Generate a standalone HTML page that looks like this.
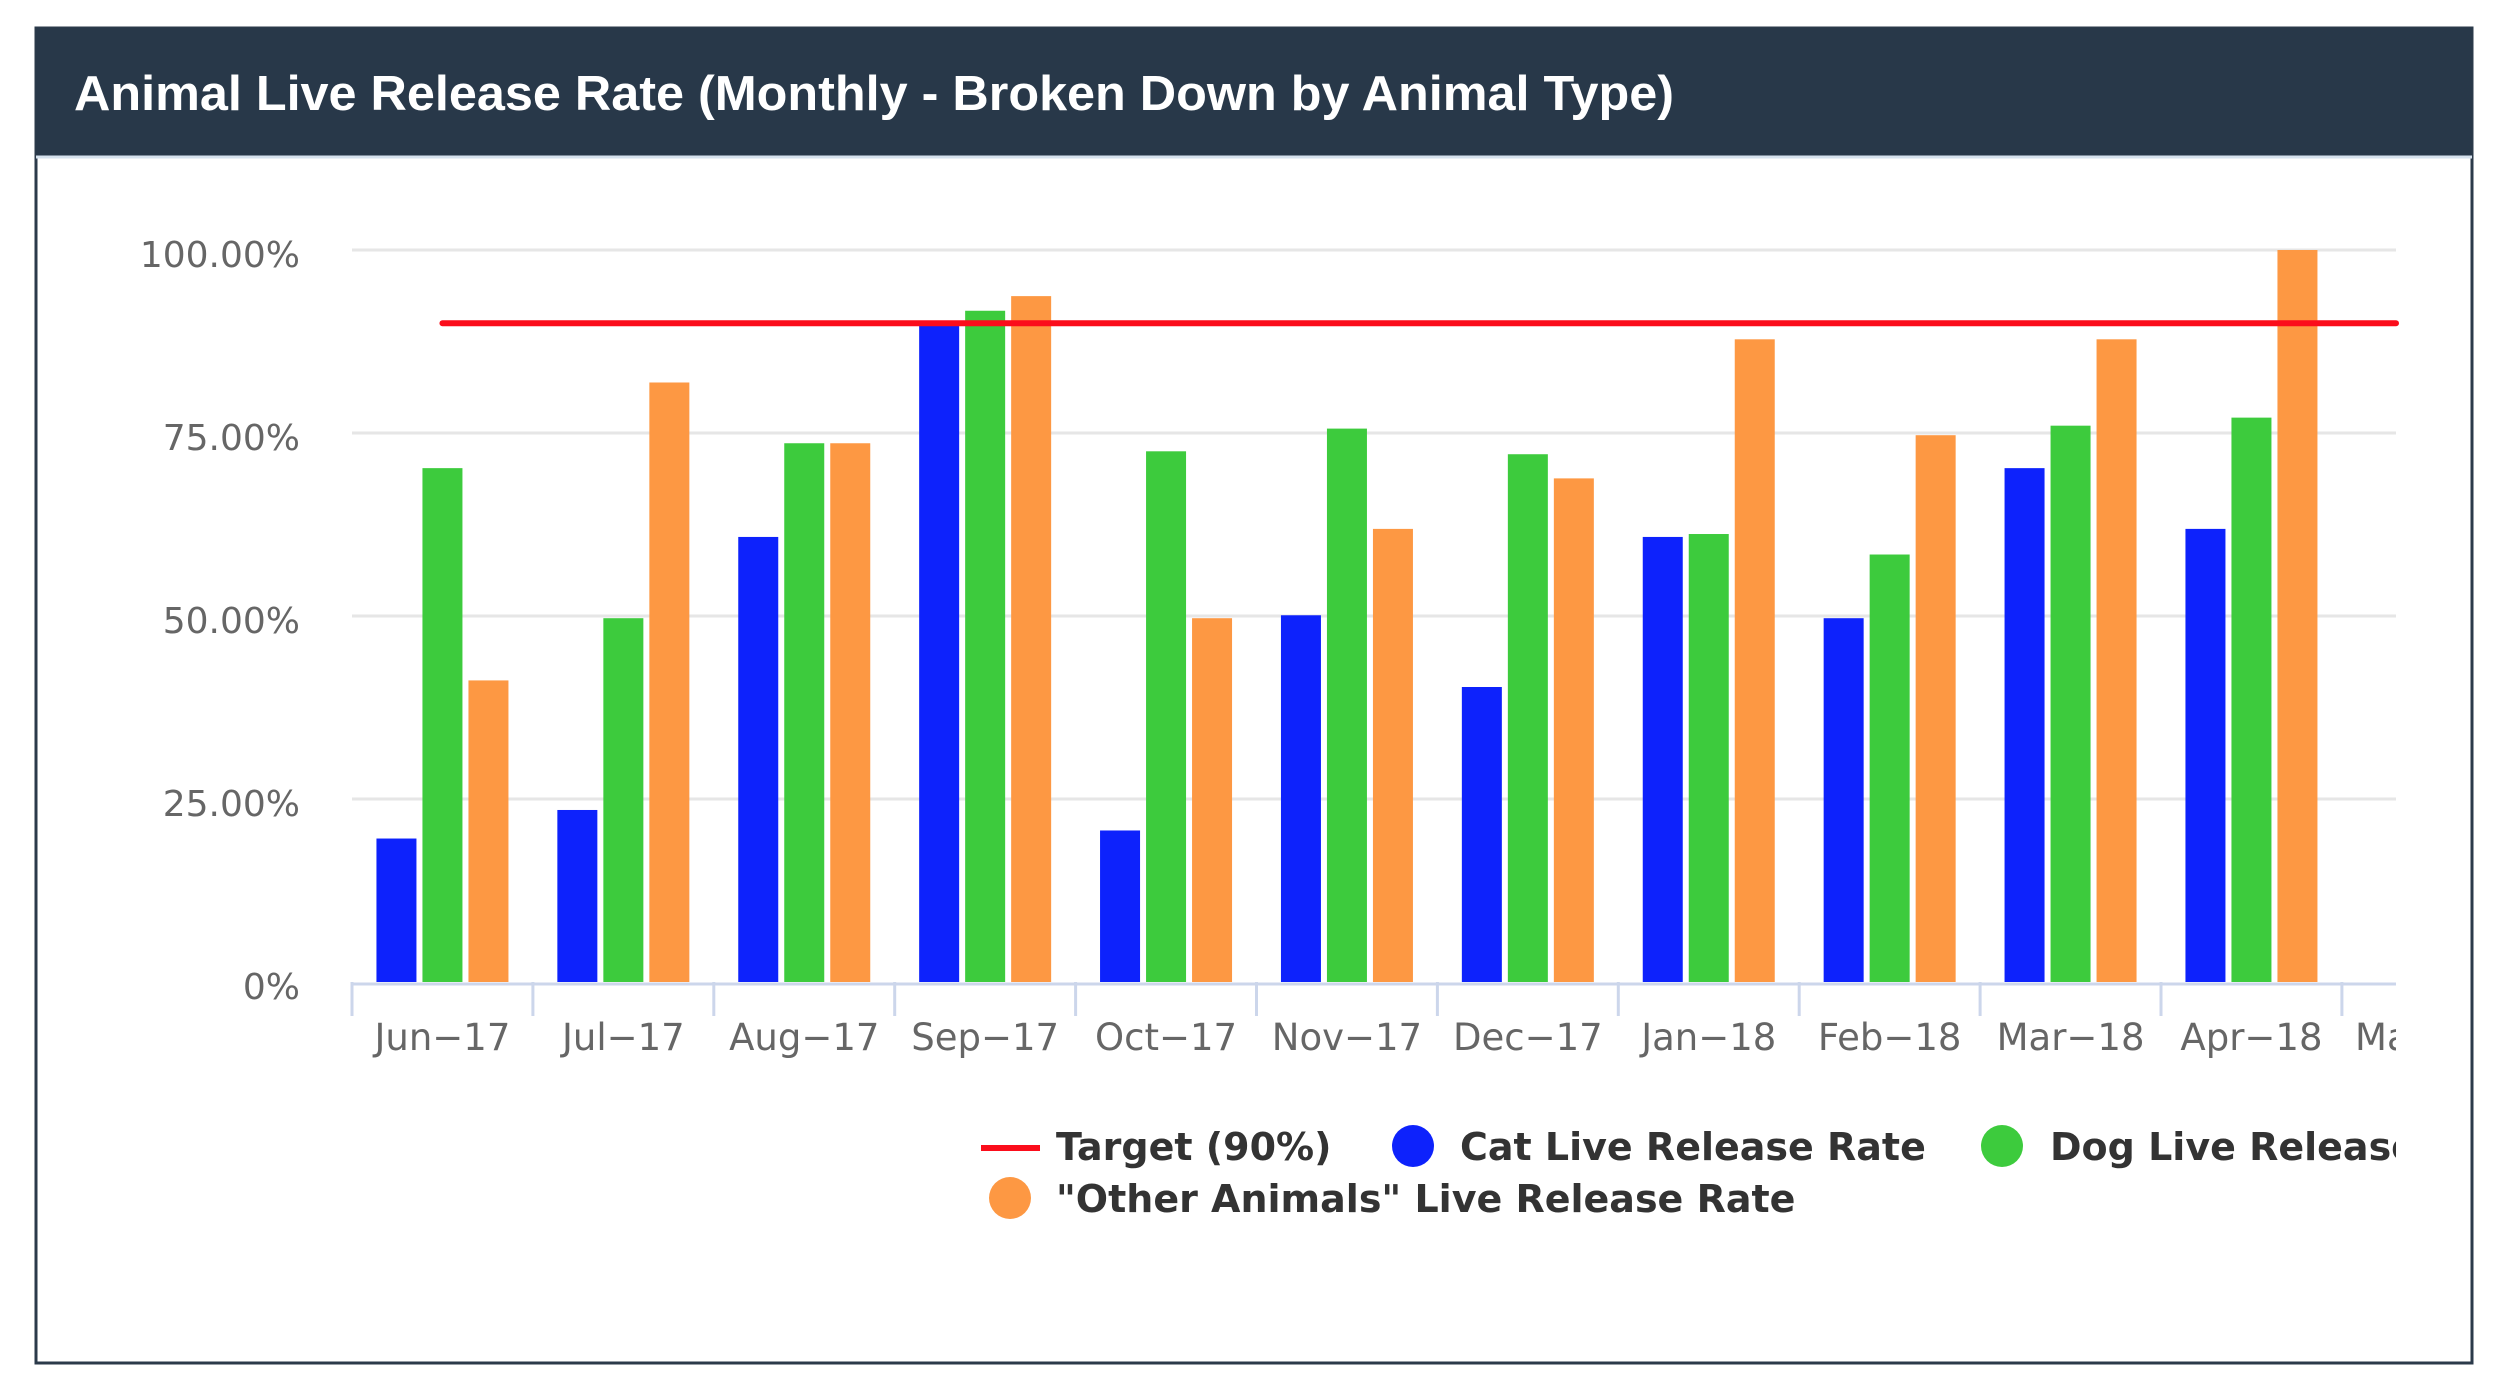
<!DOCTYPE html>
<html><head><meta charset="utf-8">
<style>
html,body{margin:0;padding:0;background:#fff;}
svg{display:block;}
</style></head>
<body>
<svg id="chart" width="2500" height="1395" viewBox="0 0 2500 1395" xmlns="http://www.w3.org/2000/svg">
  <rect x="36" y="28" width="2436" height="1335" fill="#fff" stroke="#2b3a4a" stroke-width="3"/>
  <rect x="36" y="28" width="2436" height="128" fill="#283849"/>
  <line x1="36" y1="157" x2="2472" y2="157" stroke="#d6e2ee" stroke-width="3"/>
  <text x="74" y="110" fill="#fff" font-family="Liberation Sans, Arial, sans-serif" font-weight="bold" font-size="49" textLength="1600" lengthAdjust="spacingAndGlyphs">Animal Live Release Rate (Monthly - Broken Down by Animal Type)</text>
  <g id="grid"></g>
  <g id="bars"></g>
  <g id="axes"></g>
  <g id="legend"></g>
</svg>
<script>
const categories = ["Jun-17","Jul-17","Aug-17","Sep-17","Oct-17","Nov-17","Dec-17","Jan-18","Feb-18","Mar-18","Apr-18","May-18"];
const catValues = [19.6,23.5,60.8,90.0,20.7,50.1,40.3,60.8,49.7,70.2,61.9,null];
const dogValues = [70.2,49.7,73.6,91.7,72.5,75.6,72.1,61.2,58.4,76.0,77.1,null];
const otherValues = [41.2,81.9,73.6,93.7,49.7,61.9,68.8,87.8,74.7,87.8,100.0,null];
const targetValue = 90;
const yTicks = [0,25,50,75,100];
const yTickLabels = ["0%","25.00%","50.00%","75.00%","100.00%"];

const NS = "http://www.w3.org/2000/svg";
const plotL = 352, plotR = 2396, y0 = 982, y100 = 250, catW = 180.9;
function yScale(v){ return y0 - (v/100)*(y0-y100); }
function xCat(i){ return plotL + i*catW; }
function mk(tag, attrs, parent){
  const e = document.createElementNS(NS, tag);
  for (const k in attrs) e.setAttribute(k, attrs[k]);
  parent.appendChild(e);
  return e;
}
const svg = document.getElementById('chart');
const clipDefs = mk('defs', {}, svg);
const cp = mk('clipPath', {id:'plotclip'}, clipDefs);
mk('rect', {x:plotL-2, y:0, width:plotR-plotL+2, height:1395}, cp);

const grid = document.getElementById('grid');
yTicks.forEach((t,i)=>{
  const y = yScale(t);
  if (t>0) {
    const gl = mk('line', {x1:plotL, x2:plotR, y1:y, y2:y, stroke:'#e6e6e6', 'stroke-width':3}, grid);
    
    
  }
  const tx = mk('text', {x:300, y:y+17, 'text-anchor':'end', fill:'#666', 'font-family':'DejaVu Sans, sans-serif', 'font-size':36}, grid);
  tx.textContent = yTickLabels[i];
  
  
});

const bars = document.getElementById('bars');
const series = [[catValues,'#0d22fc','cat'],[dogValues,'#3dcb3d','dog'],[otherValues,'#fd9843','other']];
const bw = 40, gap = 6;
categories.forEach((c,i)=>{
  const groupW = 3*bw + 2*gap;
  const start = xCat(i) + catW/2 - groupW/2;
  series.forEach((s,j)=>{
    const v = s[0][i];
    if (v===null) return;
    const r = mk('rect', {x:start + j*(bw+gap), y:yScale(v), width:bw, height:y0-yScale(v), fill:s[1], 'clip-path':'url(#plotclip)'}, bars);
    
    
  });
});
const tl = mk('line', {x1:xCat(0)+catW/2, x2:plotR, y1:yScale(targetValue), y2:yScale(targetValue), stroke:'#fb0d1b', 'stroke-width':6, 'stroke-linecap':'round'}, bars);



const axes = document.getElementById('axes');
const ax = mk('line', {x1:plotL, x2:plotR, y1:y0+2, y2:y0+2, stroke:'#ccd6eb', 'stroke-width':3}, axes);


categories.forEach((c,i)=>{
  const x = xCat(i);
  if (x <= plotR) {
    const tk = mk('line', {x1:x, x2:x, y1:y0, y2:1016, stroke:'#ccd6eb', 'stroke-width':3}, axes);
    
    
  }
  const t = mk('text', {x:x+catW/2, y:1050, 'text-anchor':'middle', fill:'#666', 'font-family':'DejaVu Sans, sans-serif', 'font-size':37, 'clip-path':'url(#plotclip)'}, axes);
  t.textContent = c.replace('-', '\u2212');
  
  
});

const lg = document.getElementById('legend');
const lf = {'font-family':'DejaVu Sans, sans-serif','font-size':38,'font-weight':'bold',fill:'#333'};
function ltext(x,y,s,name){
  const t = mk('text', Object.assign({x:x,y:y,'clip-path':'url(#plotclip)'},lf), lg);
  t.textContent = s;
  
  
  return t;
}
const lline = mk('line', {x1:981, x2:1040, y1:1148, y2:1148, stroke:'#fb0d1b', 'stroke-width':6}, lg);


ltext(1056,1160,'Target (90%)','legend-target');
const c1 = mk('circle', {cx:1413, cy:1146, r:21, fill:'#0d22fc'}, lg);


ltext(1460,1160,'Cat Live Release Rate','legend-cat');
const c2 = mk('circle', {cx:2002, cy:1146, r:21, fill:'#3dcb3d'}, lg);


ltext(2050,1160,'Dog Live Release Rate','legend-dog');
const c3 = mk('circle', {cx:1010, cy:1198, r:21, fill:'#fd9843'}, lg);


ltext(1056,1212,'"Other Animals" Live Release Rate','legend-other');
</script>
</body></html>
